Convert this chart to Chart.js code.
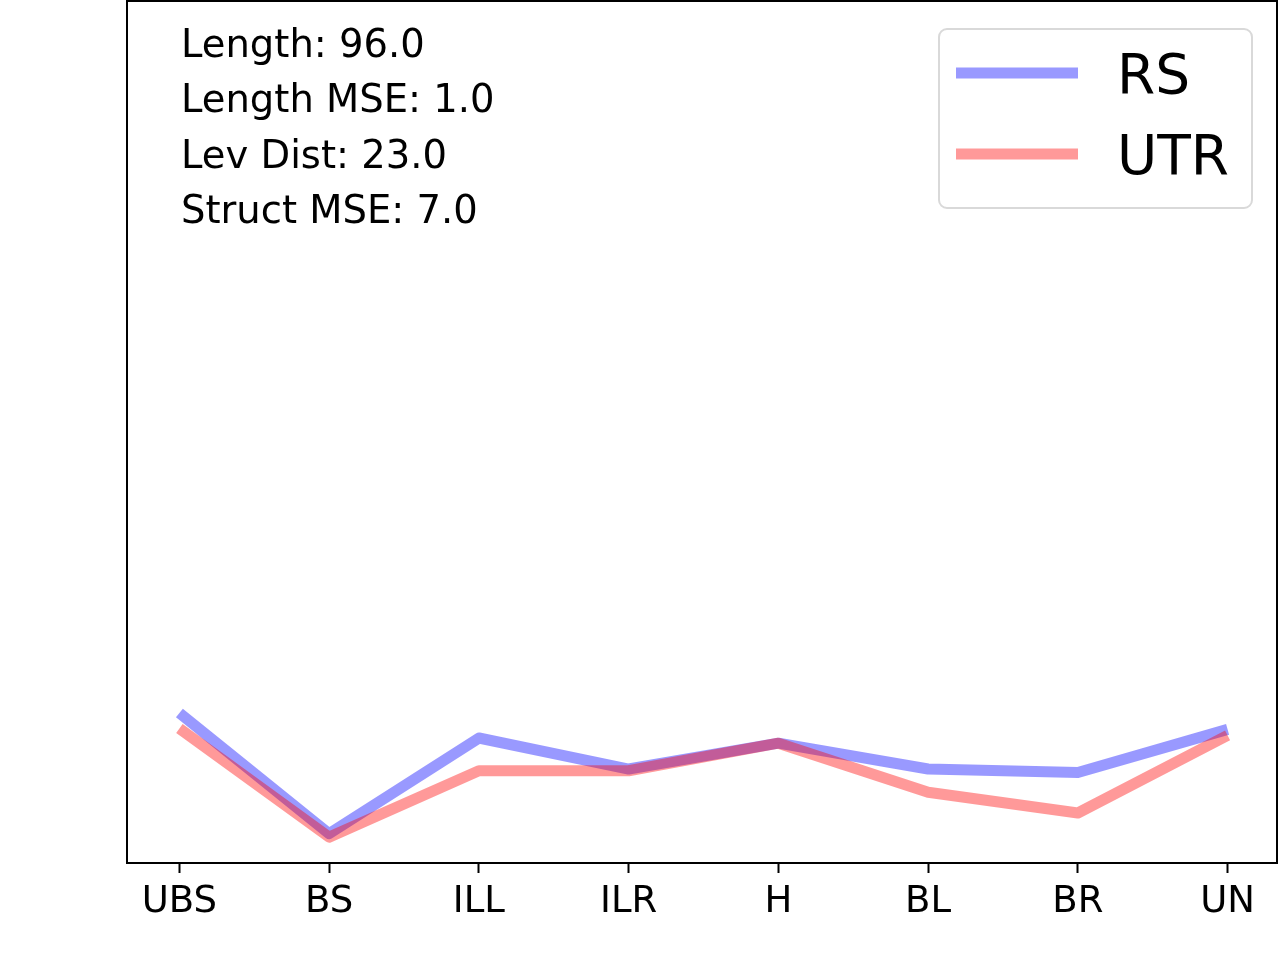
<!DOCTYPE html>
<html lang="en">
  <head>
    <meta charset="UTF-8" />
    <title>RS vs UTR</title>
    <script src="https://cdn.jsdelivr.net/npm/chart.js"></script>
    <style>
      html, body {
        margin: 0;
        padding: 0;
        background: #ffffff;
        overflow: hidden;
      }
      canvas {
        display: block;
      }
    </style>
  </head>
  <body>
    <canvas id="lineChart" width="1280" height="960"></canvas>

    <script>
      // categories along the x axis
      const categories = ["UBS", "BS", "ILL", "ILR", "H", "BL", "BR", "UN"];

      // series values (arbitrary units)
      const rsValues = [1.74, 0.34, 1.45, 1.09, 1.39, 1.09, 1.05, 1.55];
      const utrValues = [1.56, 0.3, 1.07, 1.07, 1.39, 0.82, 0.58, 1.48];

      // text in the top left corner
      const infoLines = [
        "Length: 96.0",
        "Length MSE: 1.0",
        "Lev Dist: 23.0",
        "Struct MSE: 7.0",
      ];

      const FONT = "'DejaVu Sans', sans-serif";
      const BLUE = "rgba(0, 0, 255, 0.4)";
      const RED = "rgba(255, 0, 0, 0.4)";

      function toPoints(values) {
        return values.map((v, i) => ({ x: i, y: v }));
      }

      // top and right spines, text block and legend box
      const decorations = {
        id: "decorations",
        afterDraw(chart) {
          const ctx = chart.ctx;
          const area = chart.chartArea;
          ctx.save();

          // top + right frame lines
          ctx.strokeStyle = "#000";
          ctx.lineWidth = 2;
          ctx.beginPath();
          ctx.moveTo(area.left, area.top);
          ctx.lineTo(area.right, area.top);
          ctx.lineTo(area.right, area.bottom);
          ctx.stroke();

          // info text
          ctx.fillStyle = "#000";
          ctx.font = "38.5px " + FONT;
          ctx.textBaseline = "alphabetic";
          ctx.textAlign = "left";
          infoLines.forEach((line, i) => {
            ctx.fillText(line, 181, 57 + i * 55.3);
          });

          // legend
          const bx = 939, by = 29, bw = 313, bh = 179, r = 8;
          ctx.beginPath();
          ctx.roundRect(bx, by, bw, bh, r);
          ctx.fillStyle = "rgba(255,255,255,0.8)";
          ctx.fill();
          ctx.strokeStyle = "#d9d9d9";
          ctx.lineWidth = 2;
          ctx.stroke();

          const items = [
            { label: "RS", color: BLUE, y: 73 },
            { label: "UTR", color: RED, y: 154 },
          ];
          ctx.font = "55px " + FONT;
          items.forEach((it) => {
            ctx.strokeStyle = it.color;
            ctx.lineWidth = 11;
            ctx.beginPath();
            ctx.moveTo(956, it.y);
            ctx.lineTo(1078, it.y);
            ctx.stroke();
            ctx.fillStyle = "#000";
            ctx.fillText(it.label, 1117, it.y + 19.5);
          });

          ctx.restore();
        },
      };

      const ctx = document.getElementById("lineChart").getContext("2d");

      new Chart(ctx, {
        type: "line",
        data: {
          datasets: [
            {
              label: "RS",
              data: toPoints(rsValues),
              borderColor: BLUE,
              borderWidth: 11,
              borderJoinStyle: "round",
              borderCapStyle: "butt",
              pointRadius: 0,
              tension: 0,
              fill: false,
              order: 1,
            },
            {
              label: "UTR",
              data: toPoints(utrValues),
              borderColor: RED,
              borderWidth: 11,
              borderJoinStyle: "round",
              borderCapStyle: "butt",
              pointRadius: 0,
              tension: 0,
              fill: false,
              order: 0,
            },
          ],
        },
        options: {
          responsive: false,
          devicePixelRatio: 1,
          animation: false,
          layout: { padding: { top: 1, right: 3, left: 0, bottom: 0 } },
          plugins: {
            legend: { display: false },
            tooltip: { enabled: false },
          },
          scales: {
            x: {
              type: "linear",
              min: -0.35,
              max: 7.33,
              afterFit(scale) {
                scale.height = 97;
              },
              afterBuildTicks(scale) {
                scale.ticks = categories.map((c, i) => ({ value: i }));
              },
              grid: {
                display: true,
                drawOnChartArea: false,
                drawTicks: true,
                tickLength: 10,
                tickWidth: 2,
                tickColor: "#000",
              },
              border: { display: true, color: "#000", width: 2 },
              ticks: {
                autoSkip: false,
                maxRotation: 0,
                padding: 7,
                color: "#000",
                font: { family: FONT, size: 37 },
                callback: (value) => categories[value] ?? "",
              },
            },
            y: {
              min: 0,
              max: 10,
              afterFit(scale) {
                scale.width = 127;
              },
              grid: { display: false },
              border: { display: true, color: "#000", width: 2 },
              ticks: { display: false },
            },
          },
        },
        plugins: [decorations],
      });
    </script>
  </body>
</html>
